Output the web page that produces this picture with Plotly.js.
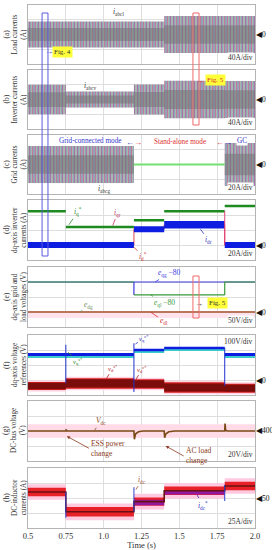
<!DOCTYPE html>
<html><head><meta charset="utf-8">
<script src="https://cdn.plot.ly/plotly-3.0.1.min.js"></script>
<style>html,body{margin:0;padding:0;background:#fff}</style>
</head><body><div id="chart" style="width:272px;height:550px"></div>
<script>
// ---------------- data ----------------
const segT = [0.5, 0.75, 1.2, 1.4, 1.8, 2.0];          // segment boundaries (s)
// (a)(b)(c) three-phase current envelopes (peak A per segment)
const loadAmp = [35, 35, 35, 50, 50];
const invAmp  = [40, 22, 41, 51, 50];
const gridAmp = [25, 25, 0, 0, 29];
// (d) dq inverter currents (A)
const iqStar   = [45, 24, 33, 45, 52];
const idMeas   = [0, 0, 21, 27, 0];
const idRipple = [4, 4, 4, 5, 4];
// (e) dq grid / load voltages (V)
const eqgMinus80 = [100, 100, 100, 100, 100];
const eqlMinus80 = [100, 100, 57, 57, 100];
const edl = [0, 0, 0, 0, 0];
// (f) dq voltage references (V)
const vqRef    = [170, 170, 200, 213, 170];
const vqRipple = [15, 15, 12, 12, 15];
const vdRef    = [-40, -23, -27, -50, -55];
const vdRipple = [27, 35, 32, 35, 30];
const fSpikeT  = [0.75, 1.2, 1.8];
const fSpikeLo = [-20, -80, -40];
const fSpikeHi = [235, 245, 215];
// (g) DC-bus voltage (V)
const vdcT = [0.5, 0.75, 0.752, 0.76, 1.2, 1.203, 1.21, 1.23, 1.26, 1.4, 1.403, 1.41, 1.43, 1.47, 1.8, 1.802, 1.806, 1.815, 2.0];
const vdcV = [400, 400, 401.5, 400, 400, 389, 396, 399, 400, 400, 391, 396, 399, 400, 400, 410, 401, 400, 400];
// (h) DC inductor currents (A)
const idc       = [60, 27, 44, 62, 70];
const idcRipple = [7, 8, 7, 7, 7];
const idcRefT   = [1.2, 1.4, 1.8];
const idcRefLo  = [38, 56];
const idcRefHi  = [47, 62];
const hSpikeT   = [0.75, 1.2, 1.8];
const hSpikeLo  = [17, 27, 45];
const hSpikeHi  = [60, 68, 72];

const xTickVals = [0.5, 0.75, 1.0, 1.25, 1.5, 1.75, 2.0];
const xTickText = ["0.5", "0.75", "1.0", "1.25", "1.5", "1.75", "2.0"];

// ---------------- layout helpers ----------------
const W = 272, H = 550, mL = 28, mR = 17, mT = 5, mB = 22;
const plotH = H - mT - mB, botPx = H - mB;
const panelPx = [[5,64],[70,129],[135,194],[200,260],[267,327],[335,395],[401,461],[468,528]];
const yRanges = [[-80,80],[-80,80],[-40,40],[-20,60],[-50,150],[-100,300],[360,440],[0,100]];
const yDticks = [40,40,20,20,50,100,20,25];
const SERIF = "Liberation Serif, Times New Roman, serif";

const sfx = i => (i === 1 ? '' : String(i));
const traces = [];
const last = a => a[a.length - 1];
const stepY = v => v.concat([last(v)]);

function base(i) {
  return {xaxis: 'x' + sfx(i), yaxis: 'y' + sfx(i), mode: 'lines', hoverinfo: 'skip', showlegend: false};
}
function band(i, xs, lo, hi, fill, extra, shape) {
  const sh = shape || 'hv';
  traces.push(Object.assign(base(i), {x: xs, y: lo, line: {width: 0, shape: sh}}));
  traces.push(Object.assign(base(i), {x: xs, y: hi, line: {width: 0, shape: sh}, fill: 'tonexty', fillcolor: fill}, extra || {}));
}
function stepBand(i, center, half, fill, extra) {
  const h = k => (Array.isArray(half) ? half[k] : half);
  band(i, segT, stepY(center.map((c, k) => c - h(k))), stepY(center.map((c, k) => c + h(k))), fill, extra);
}
function stepLine(i, vals, color, width) {
  traces.push(Object.assign(base(i), {x: segT, y: stepY(vals), line: {color: color, width: width, shape: 'hv'}}));
}
function spikes(i, ts, lo, hi, color) {
  const x = [], y = [];
  ts.forEach((t, k) => { x.push(t, t, null); y.push(lo[k], hi[k], null); });
  traces.push(Object.assign(base(i), {x: x, y: y, line: {color: color, width: 1}}));
}
function acBand(i, amp) {
  const zero = amp.map(() => 0);
  stepBand(i, zero, amp, '#a6b8ae',
    {fillpattern: {shape: '|', fgcolor: 'rgba(205,90,150,0.75)', bgcolor: '#a6b8ae', size: 3, solidity: 0.3}});
  stepBand(i, zero, amp, 'rgba(0,0,0,0)',
    {fillpattern: {shape: '|', fgcolor: 'rgba(80,100,210,0.45)', bgcolor: 'rgba(0,0,0,0)', size: 4, solidity: 0.25}});
  stepBand(i, zero, amp.map(a => a * 0.5), 'rgba(110,112,110,0.5)');
}

// (a)(b)(c)
acBand(1, loadAmp);
acBand(2, invAmp);
acBand(3, gridAmp);
traces.push(Object.assign(base(3), {x: [segT[2], segT[4]], y: [0, 0], line: {color: '#74e074', width: 2}}));

// (d)
stepLine(4, idMeas, '#e04050', 1);
stepBand(4, idMeas, idRipple, '#0e1ee0');
stepBand(4, iqStar, 1.8, '#1f8a1f');
traces.push(Object.assign(base(4), {x: [1.8, 1.8], y: [iqStar[3], idMeas[4]], line: {color: '#e0407a', width: 1}}));

// (e)
band(5, [0.5, 2.0], [-20, -20], [3, 3], '#ffe3ec', null, 'linear');
stepLine(5, eqgMinus80, '#3a3ae0', 1.2);
traces.push(Object.assign(base(5), {x: [1.2, 1.2], y: [eqlMinus80[2], eqgMinus80[2]], line: {color: '#3a3ae0', width: 1.2}}));
traces.push(Object.assign(base(5), {x: [0.5, 1.2], y: [eqlMinus80[0], eqlMinus80[1]], line: {color: '#3a9a3a', width: 1.2}}));
traces.push(Object.assign(base(5), {x: [1.2, 1.8], y: [eqlMinus80[2], eqlMinus80[3]], line: {color: '#3a9a3a', width: 1.2}}));
traces.push(Object.assign(base(5), {x: [1.8, 1.8, 2.0], y: [eqlMinus80[3], eqlMinus80[4], eqlMinus80[4]], line: {color: '#3a9a3a', width: 1.2}}));
stepLine(5, edl, '#a0522d', 1.4);

// (f)
stepBand(6, vdRef, vdRipple.map(r => r + 10), '#ffd2e2');
stepBand(6, vdRef, vdRipple, '#d82020');
stepBand(6, vdRef, vdRipple.map(r => r * 0.78), '#7a0c0c');
stepBand(6, vqRef.map(v => v - 8), vqRipple, '#3ccccc');
stepBand(6, vqRef, vqRipple.map(r => r * 0.7), '#0e1ee0');
spikes(6, fSpikeT, fSpikeLo, fSpikeHi, '#2030d0');

// (g)
band(7, [0.5, 2.0], [391, 391], [409, 409], '#ffdbe8', null, 'linear');
traces.push(Object.assign(base(7), {x: vdcT, y: vdcV, line: {color: '#7a4a14', width: 1.6}}));

// (h)
stepBand(8, idc, idcRipple.map(r => r + 6), '#ffc9df');
stepBand(8, idc, idcRipple, '#e82028');
band(8, idcRefT, stepY(idcRefLo), stepY(idcRefHi), 'rgba(120,20,200,0.75)');
stepLine(8, idc, '#6a1010', 1.6);
spikes(8, hSpikeT, hSpikeLo, hSpikeHi, '#3040d0');

// ---------------- layout ----------------
const layout = {
  width: W, height: H, margin: {l: mL, r: mR, t: mT, b: mB},
  paper_bgcolor: '#fff', plot_bgcolor: '#fff', showlegend: false,
  font: {family: SERIF, size: 8, color: '#333'},
  annotations: [], shapes: []
};
for (let i = 1; i <= 8; i++) {
  const [t, b] = panelPx[i - 1];
  layout['xaxis' + sfx(i)] = {
    domain: [0, 1], anchor: 'y' + sfx(i), range: [0.5, 2.0],
    tickvals: xTickVals, ticktext: xTickText, showticklabels: i === 8, ticks: '',
    showgrid: true, gridcolor: '#dedede', gridwidth: 1, zeroline: false,
    showline: true, mirror: true, linecolor: '#b4b4b4', linewidth: 1,
    tickfont: {family: SERIF, size: 8.5, color: '#333'}
  };
  if (i === 8) layout['xaxis8'].title = {text: 'Time (s)', font: {family: SERIF, size: 8.5, color: '#333'}, standoff: 0};
  layout['yaxis' + sfx(i)] = {
    domain: [(botPx - b) / plotH, (botPx - t) / plotH], anchor: 'x' + sfx(i),
    range: yRanges[i - 1], dtick: yDticks[i - 1], tick0: yRanges[i - 1][0],
    showticklabels: false, ticks: '', showgrid: true, gridcolor: '#dedede', zeroline: false,
    showline: true, mirror: true, linecolor: '#b4b4b4', linewidth: 1
  };
}

const tags = ["(a)", "(b)", "(c)", "(d)", "(e)", "(f)", "(g)", "(h)"];
const yTitles = ["Load currents<br>(A)", "Inverter currents<br>(A)", "Grid currents<br>(A)",
  "dq-axis inverter<br>currents (A)", "dq-axis grid and<br>load voltages (V)", "dq-axis voltage<br>references (V)",
  "DC-bus voltage<br>(V)", "DC-inductor<br>currents (A)"];
const divText = ["40A/div", "40A/div", "20A/div", "20A/div", "50V/div", "100V/div", "20V/div", "25A/div"];
const refMark = [0, 0, 0, 0, 0, 0, 400, 50];
const A = layout.annotations;
for (let i = 1; i <= 8; i++) {
  A.push({xref: 'paper', yref: 'y' + sfx(i) + ' domain', x: 0, y: 0.5, xshift: 6 - mL, text: tags[i - 1],
    textangle: -90, showarrow: false, font: {size: 7.5, color: '#333'}, xanchor: 'center', yanchor: 'middle'});
  A.push({xref: 'paper', yref: 'y' + sfx(i) + ' domain', x: 0, y: 0.5, xshift: 19 - mL, text: yTitles[i - 1],
    textangle: -90, showarrow: false, font: {size: 7.2, color: '#333'}, xanchor: 'center', yanchor: 'middle'});
  const top = (i === 6);
  A.push({xref: 'paper', yref: 'y' + sfx(i) + ' domain', x: 1, y: top ? 1 : 0, xshift: -1, yshift: top ? -1 : 1,
    text: divText[i - 1], showarrow: false, xanchor: 'right', yanchor: top ? 'top' : 'bottom',
    bgcolor: '#fff', borderpad: 0, font: {size: 7.5, color: '#333'}});
  A.push({xref: 'paper', yref: 'y' + sfx(i), x: 1, y: refMark[i - 1], xshift: -1, text: '◀' + refMark[i - 1],
    showarrow: false, xanchor: 'left', yanchor: 'middle', font: {size: 7.5, color: '#111'}});
}
function lab(i, x, y, text, color, ax, ay, size) {
  const o = {xref: 'x' + sfx(i), yref: 'y' + sfx(i), x: x, y: y, text: text, font: {size: size || 7.5, color: color}};
  if (ax === undefined) { o.showarrow = false; }
  else { o.showarrow = true; o.arrowhead = 0; o.arrowwidth = 0.8; o.arrowcolor = color; o.ax = ax; o.ay = ay; o.standoff = 0; }
  A.push(o);
}
lab(1, 1.095, 62, '<i>i</i><sub>abcl</sub>', '#333');
lab(2, 0.91, 36, '<i>i</i><sub>abcv</sub>', '#333');
lab(3, 1.0, -33, '<i>i</i><sub>abcg</sub>', '#333');
lab(4, 0.77, 27, '<i>i</i><sub>q</sub><sup>*</sup>', '#2a8a2a', 9, -13);
lab(4, 1.06, 26, '<i>i</i><sub>qr</sub>', '#c03060', 5, -13);
lab(4, 1.64, 21, '<i>i</i><sub>dr</sub>', '#3030c0', 8, 11);
lab(4, 1.2, -3, '<i>i</i><sub>d</sub><sup>*</sup>', '#d03030', 9, 9);
lab(5, 1.34, 100, '<i>e</i><sub>qg</sub> −80', '#3a3ae0', 14, -9);
lab(5, 1.31, 57, '<i>e</i><sub>ql</sub> −80', '#3a9a3a', 14, 8);
lab(5, 0.845, 0, '<i>e</i><sub>dg</sub>', '#6a8a5a', 8, -7);
lab(5, 1.31, 0, '<i>e</i><sub>dl</sub>', '#d03030', 13, 9);
lab(6, 1.21, 240, '<i>v</i><sub>q</sub><sup>c*</sup>', '#3030c0', 9, -6, 6.5);
lab(6, 0.765, 185, '<i>v</i><sub>q</sub><sup>s*</sup>', '#2a8a2a', 10, 9, 6.5);
lab(6, 1.02, 12, '<i>v</i><sub>d</sub><sup>s*</sup>', '#b02020', 6, -10, 6.5);
lab(6, 1.215, 6, '<i>v</i><sub>d</sub><sup>c*</sup>', '#b02020', 6, -10, 6.5);
lab(7, 0.94, 401, '<i>V</i><sub>dc</sub>', '#8a4a20', 6, -9);
A.push({xref: 'x7', yref: 'y7', x: 0.757, y: 393, ax: 22, ay: 12, showarrow: true, arrowhead: 2, arrowsize: 0.8,
  arrowwidth: 0.8, arrowcolor: '#8a3a20', standoff: 0, text: 'ESS power<br>change', align: 'left', xanchor: 'left',
  font: {size: 7.5, color: '#8a3a20'}});
A.push({xref: 'x7', yref: 'y7', x: 1.41, y: 380, ax: 18, ay: 10, showarrow: true, arrowhead: 2, arrowsize: 0.8,
  arrowwidth: 0.8, arrowcolor: '#8a3a20', standoff: 0, text: 'AC load<br>change', align: 'left', xanchor: 'left',
  font: {size: 7.5, color: '#8a3a20'}});
lab(8, 1.213, 64, '<i>i</i><sub>dc</sub>', '#a0522d', 6, -10);
lab(8, 1.617, 55, '<i>i</i><sub>dc</sub><sup>*</sup>', '#3030c0', 6, 10);
// mode annotations in (c)
const modeY = 0.975;
const modeFont = 7.2;
A.push({xref: 'x3', yref: 'y3 domain', x: 0.91, y: modeY, yanchor: 'top', text: 'Grid-connected mode', showarrow: false, bgcolor: '#fff', borderpad: 0, font: {size: modeFont, color: '#3333cc'}});
A.push({xref: 'x3', yref: 'y3 domain', x: 1.2, y: modeY, yanchor: 'top', text: '<span style="color:#3333cc">←</span><span style="color:#e03030">→</span>', showarrow: false, font: {size: 8}});
A.push({xref: 'x3', yref: 'y3 domain', x: 1.505, y: modeY, yanchor: 'top', text: 'Stand-alone mode', showarrow: false, font: {size: modeFont, color: '#e03030'}});
A.push({xref: 'x3', yref: 'y3 domain', x: 1.795, y: modeY, yanchor: 'top', text: '<span style="color:#e03030">←</span><span style="color:#3333cc">→</span>', showarrow: false, font: {size: 8}});
A.push({xref: 'x3', yref: 'y3 domain', x: 1.915, y: modeY, yanchor: 'top', text: 'GC', showarrow: false, bgcolor: '#fff', borderpad: 0, font: {size: modeFont, color: '#3333cc'}});
// Fig. references
A.push({xref: 'x', yref: 'y domain', x: 0.64, y: 0.1, text: '→', showarrow: false, font: {size: 8, color: '#2a2ad0'}});
A.push({xref: 'x', yref: 'y domain', x: 0.725, y: 0.1, text: 'Fig. 4', showarrow: false, bgcolor: '#ffff3a', font: {size: 7, color: '#333'}});
A.push({xref: 'x2', yref: 'y2 domain', x: 1.637, y: 0.93, text: '→', showarrow: false, font: {size: 8, color: '#e03030'}});
A.push({xref: 'x2', yref: 'y2 domain', x: 1.742, y: 0.93, text: 'Fig. 5', showarrow: false, bgcolor: '#ffff3a', font: {size: 7, color: '#e03030'}});
A.push({xref: 'x5', yref: 'y5 domain', x: 1.632, y: 0.4, text: '→', showarrow: false, font: {size: 8, color: '#333'}});
A.push({xref: 'x5', yref: 'y5 domain', x: 1.75, y: 0.4, text: 'Fig. 5', showarrow: false, bgcolor: '#ffff3a', font: {size: 7, color: '#333'}});

// highlight boxes
const py = px => (botPx - px) / plotH;
layout.shapes.push({type: 'rect', xref: 'x', yref: 'paper', x0: 0.593, x1: 0.632, y0: py(256), y1: py(13), line: {color: '#5a5ae0', width: 1}});
layout.shapes.push({type: 'rect', xref: 'x', yref: 'paper', x0: 1.59, x1: 1.63, y0: py(125), y1: py(13), line: {color: '#f06a6a', width: 1}});
layout.shapes.push({type: 'rect', xref: 'x', yref: 'paper', x0: 1.59, x1: 1.63, y0: py(318), y1: py(276), line: {color: '#f06a6a', width: 1}});

Plotly.newPlot('chart', traces, layout, {staticPlot: true, displayModeBar: false});
</script>
</body></html>
